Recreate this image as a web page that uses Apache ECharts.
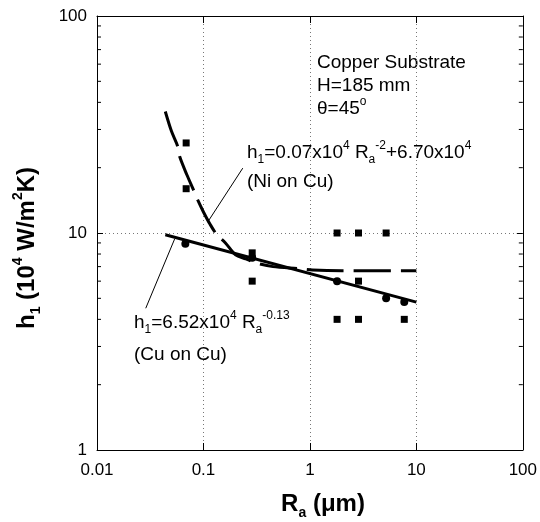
<!DOCTYPE html>
<html>
<head>
<meta charset="utf-8">
<script src="https://cdn.jsdelivr.net/npm/echarts@6.0.0/dist/echarts.min.js"></script>
<style>
  html, body { margin: 0; padding: 0; background: #fff; }
  #chart { width: 540px; height: 522px; }
</style>
</head>
<body>
<div id="chart"></div>
<script>
  // tick values
  const xTicks = [0.01, 0.1, 1, 10, 100];
  const yTicks = [1, 10, 100];
  const yMinorTicks = [2, 3, 4, 5, 6, 7, 8, 9, 20, 30, 40, 50, 60, 70, 80, 90];

  // Ni on Cu (squares)
  const niRa = [0.0688, 0.0688, 0.287, 0.287, 1.8, 2.86, 5.2, 2.86, 1.8, 2.86, 7.7];
  const niH = [26.0, 16.0, 8.1, 6.0, 10, 10, 10, 6.0, 4.0, 4.0, 4.0];

  // Cu on Cu (circles)
  const cuRa = [0.0676, 0.287, 1.8, 5.2, 7.7];
  const cuH = [8.93, 7.7, 6.0, 5.0, 4.81];

  // fitted curves
  const cuFitRa = [0.0438, 10];
  const cuFitH = [9.82, 4.8];
  const niFitRa = [0.0438, 0.05, 0.0573, 0.0598, 0.07, 0.0811, 0.0883, 0.1, 0.115, 0.134, 0.161, 0.2, 0.25, 0.31, 0.45, 0.8, 1.06, 2, 10];
  const niFitH = [36.3, 29.5, 25.1, 22.5, 18.5, 15.7, 14.2, 12.5, 11.0, 9.8, 9.0, 7.94, 7.6, 7.28, 7.0, 6.85, 6.75, 6.7, 6.7];

  // leader lines from the labels to the curves
  const niLeaderRa = [0.234, 0.1105];
  const niLeaderH = [19.9, 11.3];
  const cuLeaderRa = [0.0287, 0.0536];
  const cuLeaderH = [4.5, 9.38];

  const FONT = '"Liberation Sans", Arial, Helvetica, sans-serif';
  const zip = (a, b) => a.map((v, i) => [v, b[i]]);
  const fmt = v => String(+(+v).toPrecision(2));

  const baseX = {
    type: 'log', logBase: 10, min: 0.01, max: 100,
    axisLine: { lineStyle: { color: '#000', width: 1 } },
    axisTick: { inside: true, length: 7, lineStyle: { color: '#000' } },
    splitLine: { show: false },
    axisLabel: { show: false }
  };
  const baseY = {
    type: 'log', logBase: 10, min: 1, max: 100,
    axisLine: { lineStyle: { color: '#000', width: 1 } },
    axisTick: { inside: true, length: 6, lineStyle: { color: '#000' } },
    splitLine: { show: false },
    axisLabel: { show: false }
  };

  const text = (x, y, str) => ({
    type: 'text', x: x, y: y, silent: true,
    style: {
      text: str, fill: '#000', fontFamily: FONT, fontSize: 19,
      align: 'left', verticalAlign: 'middle',
      rich: {
        n: { fontSize: 19, lineHeight: 26, fontFamily: FONT, fill: '#000' },
        sup: { fontSize: 12, lineHeight: 10, verticalAlign: 'top', fontFamily: FONT, fill: '#000' },
        sub: { fontSize: 12, lineHeight: 12, verticalAlign: 'bottom', fontFamily: FONT, fill: '#000' }
      }
    }
  });

  const titleRich = {
    b: { fontSize: 24, fontWeight: 'bold', lineHeight: 32, fontFamily: FONT, fill: '#000' },
    bp: { fontSize: 14, fontWeight: 'bold', lineHeight: 14, verticalAlign: 'top', fontFamily: FONT, fill: '#000' },
    bs: { fontSize: 14, fontWeight: 'bold', lineHeight: 14, verticalAlign: 'bottom', fontFamily: FONT, fill: '#000' }
  };

  const chart = echarts.init(document.getElementById('chart'), null, { renderer: 'canvas' });

  chart.setOption({
    animation: false,
    backgroundColor: '#fff',
    grid: { left: 97, right: 15, top: 16, bottom: 72 },
    xAxis: [
      Object.assign({}, baseX, {
        position: 'bottom',
        splitLine: { show: true, lineStyle: { color: '#777', type: [1, 3], width: 1 } },
        axisLabel: {
          show: true, color: '#000', fontSize: 17, fontFamily: FONT, margin: 12,
          formatter: v => xTicks.indexOf(+fmt(v)) >= 0 ? fmt(v) : ''
        }
      }),
      Object.assign({}, baseX, { position: 'top' })
    ],
    yAxis: [
      Object.assign({}, baseY, {
        position: 'left',
        splitLine: { show: true, lineStyle: { color: '#777', type: [1, 3], width: 1 } },
        axisLabel: {
          show: true, color: '#000', fontSize: 17, fontFamily: FONT, margin: 10,
          formatter: v => yTicks.indexOf(+fmt(v)) >= 0 ? fmt(v) : ''
        }
      }),
      Object.assign({}, baseY, { position: 'right' })
    ],
    series: [
      {
        name: 'minor ticks', type: 'custom', silent: true,
        xAxisIndex: 0, yAxisIndex: 0,
        data: yMinorTicks.map(v => [0.01, v]),
        encode: { x: 0, y: 1 },
        renderItem: function (params, api) {
          const v = api.value(1);
          const l = api.coord([0.01, v]);
          const r = api.coord([100, v]);
          return {
            type: 'group',
            children: [
              { type: 'line', shape: { x1: l[0], y1: l[1], x2: l[0] + 4, y2: l[1] }, style: { stroke: '#000', lineWidth: 1 } },
              { type: 'line', shape: { x1: r[0], y1: r[1], x2: r[0] - 4, y2: r[1] }, style: { stroke: '#000', lineWidth: 1 } }
            ]
          };
        }
      },
      {
        name: 'Ni fit', type: 'line', data: zip(niFitRa, niFitH),
        showSymbol: false, symbol: 'none', smooth: 0.3,
        lineStyle: { color: '#000', width: 3, type: [37, 10] }
      },
      {
        name: 'Cu fit', type: 'line', data: zip(cuFitRa, cuFitH),
        showSymbol: false, symbol: 'none',
        lineStyle: { color: '#000', width: 3 }
      },
      {
        name: 'Ni leader', type: 'line', data: zip(niLeaderRa, niLeaderH),
        symbol: 'none', lineStyle: { color: '#000', width: 1 }
      },
      {
        name: 'Cu leader', type: 'line', data: zip(cuLeaderRa, cuLeaderH),
        symbol: 'none', lineStyle: { color: '#000', width: 1 }
      },
      {
        name: 'Ni on Cu', type: 'scatter', data: zip(niRa, niH),
        symbol: 'rect', symbolSize: 7, itemStyle: { color: '#000', opacity: 1 }
      },
      {
        name: 'Cu on Cu', type: 'scatter', data: zip(cuRa, cuH),
        symbol: 'circle', symbolSize: 8, itemStyle: { color: '#000', opacity: 1 }
      }
    ],
    graphic: [
      text(317, 63, 'Copper Substrate'),
      text(317, 86, 'H=185 mm'),
      text(317, 109, '{n|θ=45}{sup|o}'),
      text(247, 153, '{n|h}{sub|1}{n|=0.07x10}{sup|4}{n| R}{sub|a}{sup|-2}{n|+6.70x10}{sup|4}'),
      text(247, 182, '(Ni on Cu)'),
      text(134, 323, '{n|h}{sub|1}{n|=6.52x10}{sup|4}{n| R}{sub|a}{sup|-0.13}'),
      text(134, 355, '(Cu on Cu)'),
      {
        type: 'text', x: 323, y: 504, silent: true,
        style: { text: '{b|R}{bs|a}{b| (μm)}', align: 'center', verticalAlign: 'middle', fill: '#000', fontFamily: FONT, rich: titleRich }
      },
      {
        type: 'text', x: 27, y: 248, rotation: Math.PI / 2, silent: true,
        style: { text: '{b|h}{bs|1}{b| (10}{bp|4}{b| W/m}{bp|2}{b|K)}', align: 'center', verticalAlign: 'middle', fill: '#000', fontFamily: FONT, rich: titleRich }
      }
    ]
  });
</script>
</body>
</html>
